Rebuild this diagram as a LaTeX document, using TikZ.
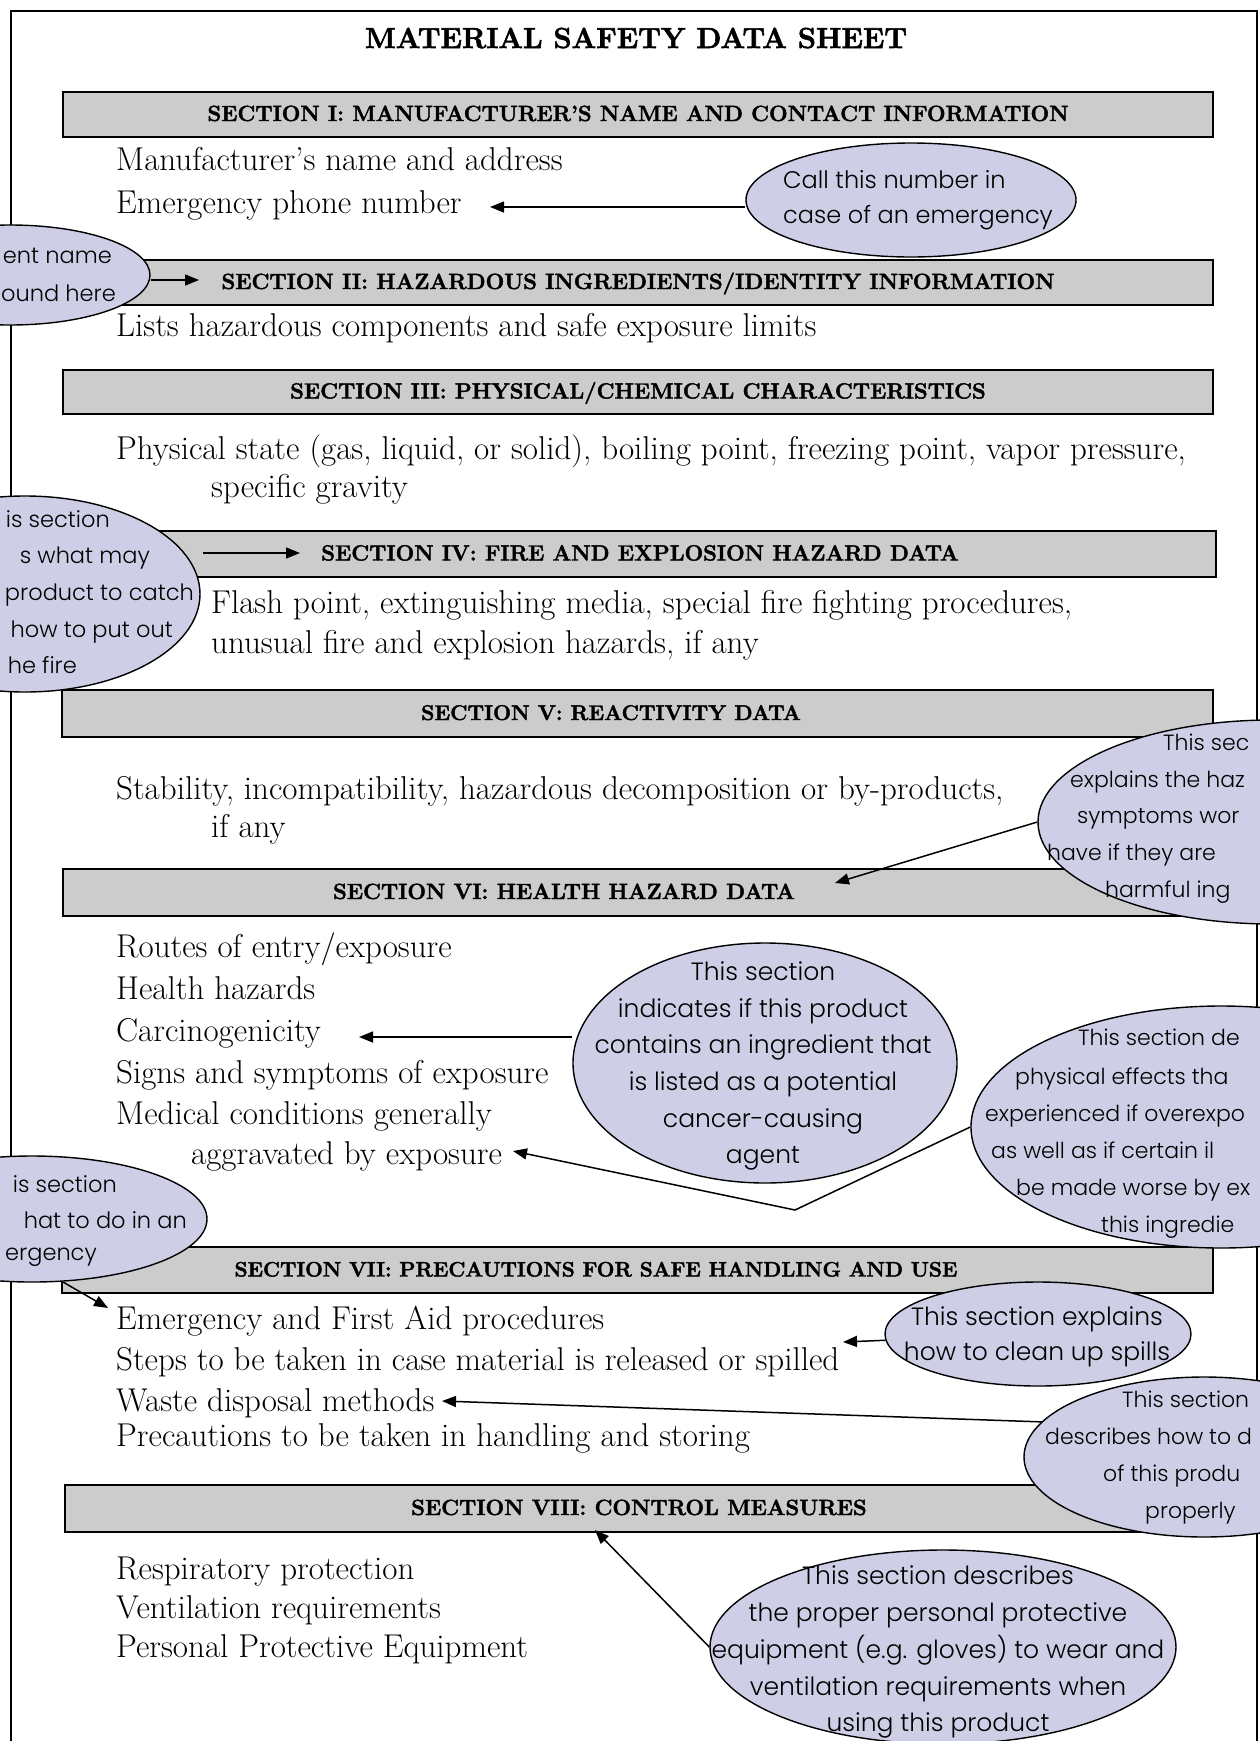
\documentclass[tikz,border=0pt]{standalone}
\usepackage{fontspec}
\IfFontExistsTF{Poppins Light}{\newfontfamily\hand{Poppins Light}}{\newfontfamily\hand{Poppins}}
\newfontfamily\hdrfont{lmroman12-bold.otf}[FakeBold=2]
\usetikzlibrary{arrows.meta,shapes.geometric}
\definecolor{barfill}{RGB}{204,204,204}
\definecolor{ellfill}{RGB}{206,206,230}
\pgfdeclarelayer{bg}
\pgfdeclarelayer{mid}
\pgfsetlayers{bg,mid,main}
\begin{document}
\begin{tikzpicture}[x=1pt,y=-1pt,
  bar/.style={draw=black, line width=1.6pt, fill=barfill, rectangle, inner sep=0pt,
     minimum width=1150pt},
  hdr/.style={anchor=base, inner sep=0pt, font=\hdrfont\fontsize{22}{26}\selectfont},
  body/.style={font=\fontsize{33}{40}\selectfont, anchor=base west, inner sep=0pt},
  bubble/.style={ellipse, draw=black, line width=1.4pt, fill=ellfill, inner sep=0pt},
  hw/.style={font=\hand\fontsize{25}{30}\selectfont, inner sep=0pt},
  hwc/.style={hw, anchor=base},
  hwl/.style={hw, anchor=base west},
  hwf/.style={font=\hand\fontsize{22}{27}\selectfont, inner sep=0pt, anchor=base west},
  hwr/.style={font=\hand\fontsize{22.5}{27}\selectfont, inner sep=0pt, anchor=base east},
  arr/.style={line width=1.5pt, -{Triangle[length=14pt,width=11pt]}}
]
\useasboundingbox (0,0) rectangle (1259,1741);

\begin{pgfonlayer}{bg}
\fill[white] (0,0) rectangle (1259,1741);
\draw[line width=2.2pt] (11,1760) -- (11,11) -- (1257,11) -- (1257,1760);
\node[bar, minimum height=45pt] (s1) at (638,114.5) {};
\node[bar, minimum height=45pt] (s2) at (638,282.5) {};
\node[bar, minimum height=44pt] (s3) at (638,392) {};
\node[bar, minimum height=46pt, minimum width=1153pt] (s4) at (639.5,554) {};
\node[bar, minimum height=47pt, minimum width=1151pt] (s5) at (637.5,713.5) {};
\node[bar, minimum height=47pt] (s6) at (638,892.5) {};
\node[bar, minimum height=46pt, minimum width=1151pt] (s7) at (637.5,1270) {};
\node[bar, minimum height=47pt, minimum width=1148pt] (s8) at (639,1508.5) {};
\end{pgfonlayer}

% section headings
\node[hdr] (l1) at (638,121) {SECTION I: MANUFACTURER’S NAME AND CONTACT INFORMATION};
\node[hdr] (l2) at (638,289) {SECTION II: HAZARDOUS INGREDIENTS/IDENTITY INFORMATION};
\node[hdr] (l3) at (638,398.5) {SECTION III: PHYSICAL/CHEMICAL CHARACTERISTICS};
\node[hdr] (l4) at (640,560.5) {SECTION IV: FIRE AND EXPLOSION HAZARD DATA};
\node[hdr, font=\hdrfont\fontsize{21.3}{26}\selectfont] (l5) at (611,720) {SECTION V: REACTIVITY DATA};
\node[hdr] (l6) at (564,899) {SECTION VI: HEALTH HAZARD DATA};
\node[hdr, font=\hdrfont\fontsize{20.9}{26}\selectfont] (l7) at (596,1276.5) {SECTION VII: PRECAUTIONS FOR SAFE HANDLING AND USE};
\node[hdr] (l8) at (639,1515) {SECTION VIII: CONTROL MEASURES};

% title
\node[font=\hdrfont\fontsize{29}{34}\selectfont, anchor=base, inner sep=0pt] (title) at (636,48) {MATERIAL SAFETY DATA SHEET};

% body text
\node[body] (b1) at (116,170) {Manufacturer’s name and address};
\node[body] (b2) at (116,213) {Emergency phone number};
\node[body] (b3) at (116,336) {Lists hazardous components and safe exposure limits};
\node[body] (b4) at (116,459) {Physical state (gas, liquid, or solid), boiling point, freezing point, vapor pressure,};
\node[body] (b5) at (211,497) {specific gravity};
\node[body] (b6) at (211,613) {Flash point, extinguishing media, special fire fighting procedures,};
\node[body] (b7) at (211,653) {unusual fire and explosion hazards, if any};
\node[body] (b8) at (116,799) {Stability, incompatibility, hazardous decomposition or by-products,};
\node[body] (b9) at (211,837) {if any};
\node[body] (b10) at (116,957) {Routes of entry/exposure};
\node[body] (b11) at (116,999) {Health hazards};
\node[body] (b12) at (116,1041) {Carcinogenicity};
\node[body] (b13) at (116,1083) {Signs and symptoms of exposure};
\node[body] (b14) at (116,1124) {Medical conditions generally};
\node[body] (b15) at (191,1164) {aggravated by exposure};
\node[body] (b16) at (116,1329) {Emergency and First Aid procedures};
\node[body] (b17) at (116,1370) {Steps to be taken in case material is released or spilled};
\node[body] (b18) at (116,1411) {Waste disposal methods};
\node[body] (b19) at (116,1446) {Precautions to be taken in handling and storing};
\node[body] (b20) at (116,1579) {Respiratory protection};
\node[body] (b21) at (116,1618) {Ventilation requirements};
\node[body] (b22) at (116,1657) {Personal Protective Equipment};

% bubbles
\node[bubble, minimum width=330pt, minimum height=114pt] (e1) at (911,200) {};
\node[bubble, minimum width=280pt, minimum height=100pt] (e2) at (10,275) {};
\node[bubble, minimum width=350pt, minimum height=196pt] (e3) at (25,594) {};
\node[bubble, minimum width=468pt, minimum height=204pt] (e4) at (1272,822) {};
\node[bubble, minimum width=384pt, minimum height=240pt] (e5) at (765,1063) {};
\node[bubble, minimum width=500pt, minimum height=242pt] (e6) at (1221,1127) {};
\node[bubble, minimum width=350pt, minimum height=126pt] (e7) at (32,1219) {};
\node[bubble, minimum width=306pt, minimum height=104pt] (e8) at (1038,1334) {};
\node[bubble, minimum width=360pt, minimum height=160pt] (e9) at (1204,1457) {};
\node[bubble, minimum width=466pt, minimum height=194pt] (e10) at (943,1647) {};

% arrow end points
\coordinate (t1) at (490,207);
\coordinate (t2) at (199,280);
\coordinate (s3) at (203,553);
\coordinate (t3) at (300,553);
\coordinate (t4) at (835,883);
\coordinate (t5) at (359,1037);
\coordinate (v6) at (795,1210);
\coordinate (t6) at (513,1151);
\coordinate (s7) at (63,1282);
\coordinate (t7) at (108,1308);
\coordinate (t8) at (843,1342);
\coordinate (s9) at (1045,1422);
\coordinate (t9) at (442,1401);
\coordinate (t10) at (595,1530);

\begin{pgfonlayer}{mid}
\draw[arr] (e1.west |- t1) -- (t1);
\draw[arr] (e2.east |- t2) -- (t2);
\draw[arr] (s3) -- (t3);
\draw[arr] (e4.west) -- (t4);
\draw[arr] (e5.west |- t5) -- (t5);
\draw[arr] (e6.west) -- (v6) -- (t6);
\draw[arr] (s7) -- (t7);
\draw[arr] (e8) -- (t8);
\draw[arr] (s9) -- (t9);
\draw[arr] (e10.west) -- (t10);
\end{pgfonlayer}

% bubble texts
\node[hwl, font=\hand\fontsize{24}{29}\selectfont] (h1a) at (783,188) {Call this number in};
\node[hwl, font=\hand\fontsize{24}{29}\selectfont] (h1b) at (783,223) {case of an emergency};

\node[hwr] (h2a) at (112,263) {ent name};
\node[hwr] (h2b) at (116,301) {ound here};

\node[hwr] (h3a) at (110,527) {is section};
\node[hwr] (h3b) at (150,563) {s what may};
\node[hwr] (h3c) at (194,600) {product to catch};
\node[hwr] (h3d) at (173,637) {how to put out};
\node[hwr] (h3e) at (77,673) {he fire};

\node[hwf] (h4a) at (1163,750) {This sec};
\node[hwf] (h4b) at (1070,787) {explains the haz};
\node[hwf] (h4c) at (1077,823) {symptoms wor};
\node[hwf] (h4d) at (1047,860) {have if they are};
\node[hwf] (h4e) at (1105,897) {harmful ing};

\node[hwc] (h5a) at (763,980) {This section};
\node[hwc] (h5b) at (763,1017) {indicates if this product};
\node[hwc] (h5c) at (763,1053) {contains an ingredient that};
\node[hwc] (h5d) at (763,1090) {is listed as a potential};
\node[hwc] (h5e) at (763,1127) {cancer-causing};
\node[hwc] (h5f) at (763,1163) {agent};

\node[hwf] (h6a) at (1078,1045) {This section de};
\node[hwf] (h6b) at (1015,1084) {physical effects tha};
\node[hwf] (h6c) at (985,1121) {experienced if overexpo};
\node[hwf] (h6d) at (991,1158) {as well as if certain il};
\node[hwf] (h6e) at (1016,1195) {be made worse by ex};
\node[hwf] (h6f) at (1101,1232) {this ingredie};

\node[hwr] (h7a) at (117,1192) {is section};
\node[hwr] (h7b) at (187,1228) {hat to do in an};
\node[hwr] (h7c) at (97,1260) {ergency};

\node[hwc] (h8a) at (1037,1325) {This section explains};
\node[hwc] (h8b) at (1037,1360) {how to clean up spills};

\node[hwf] (h9a) at (1122,1407) {This section};
\node[hwf] (h9b) at (1045,1444) {describes how to d};
\node[hwf] (h9c) at (1103,1481) {of this produ};
\node[hwf] (h9d) at (1145,1518) {properly};

\node[hwc] (h10a) at (938,1584) {This section describes};
\node[hwc] (h10b) at (938,1621) {the proper personal protective};
\node[hwc] (h10c) at (938,1658) {equipment (e.g. gloves) to wear and};
\node[hwc] (h10d) at (938,1695) {ventilation requirements when};
\node[hwc] (h10e) at (938,1731) {using this product};
\end{tikzpicture}
\end{document}
